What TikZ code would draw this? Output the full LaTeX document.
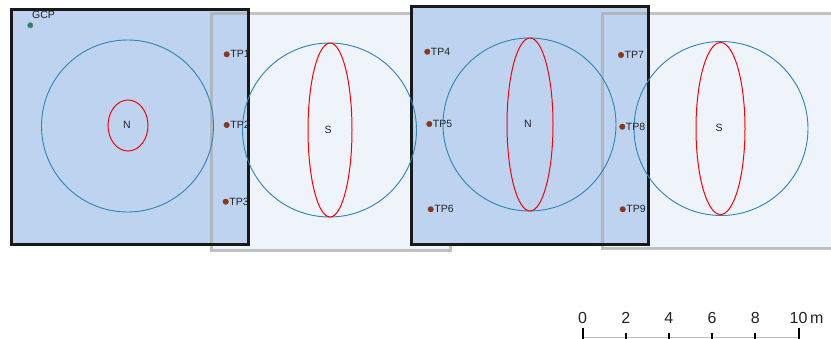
\documentclass[tikz,border=0pt]{standalone}
\usepackage{fontspec}
\setmainfont{Liberation Sans}
\definecolor{blueA}{HTML}{BED3F0}
\definecolor{lightA}{HTML}{EFF3FA}
\definecolor{grayA}{HTML}{AAAAAA}
\definecolor{circA}{HTML}{2A86B4}
\definecolor{tpA}{HTML}{A03000}
\definecolor{gcpA}{HTML}{109050}
\definecolor{txtA}{HTML}{222222}
\begin{document}
\begin{tikzpicture}[x=1pt,y=-1pt,
  bluesq/.style={fill=blueA},
  lightsq/.style={fill=lightA},
  blackedge/.style={draw=black!90, line width=3pt},
  grayedge/.style={draw=grayA, draw opacity=0.7, line width=3pt},
  circ/.style={draw=circA, line width=0.9pt},
  redell/.style={draw=red, line width=1pt},
  lbl/.style={font=\fontsize{10.5}{12}\selectfont, text=txtA, inner sep=0pt},
  tpdot/.style={circle, fill=tpA, draw=black!70, line width=0.4pt, minimum size=5.5pt, inner sep=0pt},
  gcpdot/.style={circle, fill=gcpA, draw=black!50, line width=0.4pt, minimum size=5.5pt, inner sep=0pt},
  tick/.style={line width=2pt, draw=black},
  scl/.style={font=\fontsize{16}{18}\selectfont, text=txtA, inner sep=0pt, anchor=base}
]
\useasboundingbox (0,0) rectangle (831,339);
\clip (0,0) rectangle (831,339);
% square 2 fill
\fill[lightsq] (211,14) rectangle (450,251);
% square 1 fill
\fill[bluesq] (11,10) rectangle (248,245);
% GCP label (under border)
\node[gcpdot] (gcp) at (30.3,25.3) {};
\node[lbl, anchor=base west] (gcpl) at (32,18.5) {GCP};
% square 2 border
\draw[grayedge] (211,14) rectangle (450,251);
% square 1 border
\draw[blackedge] (11,10) rectangle (248,245);
% square 4 fill
\fill[lightsq] (602,14) rectangle (845,249);
% square 3 fill
\fill[bluesq] (411,7) rectangle (648,245);
% square 4 border
\draw[grayedge] (602,14) rectangle (845,249);
% square 3 border
\draw[blackedge] (411,7) rectangle (648,245);

% footprints
\draw[circ] (127.5,126) circle[radius=86];
\draw[redell] (128,125.5) ellipse[x radius=20, y radius=25.5];
\node[lbl] (n1) at (127,125) {N};

\draw[circ] (329.5,130) circle[radius=87];
\draw[redell] (330,130) ellipse[x radius=22, y radius=87];
\node[lbl] (s1) at (328,129.5) {S};

\draw[circ] (529.5,124.5) circle[radius=86.5];
\draw[redell] (530,124.5) ellipse[x radius=23, y radius=86.5];
\node[lbl] (n2) at (528,124) {N};

\draw[circ] (721,128.5) circle[radius=87];
\draw[redell] (720.5,128.5) ellipse[x radius=24.5, y radius=86];
\node[lbl] (s2) at (719,127.5) {S};

% tie points
\foreach \n/\x/\y in {1/226.7/54.3, 2/226.7/125, 3/225.7/201.7,
                      4/427.3/51.7, 5/429.3/124, 6/430.7/209.3,
                      7/621/55, 8/622.3/126.7, 9/622.7/209.3}{
  \node[tpdot] (tp\n) at (\x,\y) {};
  \node[lbl, anchor=west] (tp\n l) at ([xshift=0.5pt]tp\n.east) {TP\n};
}

% scale bar
\coordinate (b0) at (582.5,338);
\coordinate (b10) at (798.5,338);
\draw[line width=1pt, draw=black!25] (b0) -- (b10);
\draw[tick] (582.5,328) -- (582.5,340);
\draw[tick] (798.5,328) -- (798.5,340);
\foreach \xx in {625.7,668.9,712.1,755.3}{
  \draw[tick] (\xx,333.5) -- (\xx,340);
}
\node[scl] (l0) at (582.5,324) {0};
\node[scl] (l2) at (625.7,324) {2};
\node[scl] (l4) at (668.9,324) {4};
\node[scl] (l6) at (712.1,324) {6};
\node[scl] (l8) at (755.3,324) {8};
\node[scl] (l10) at (798.5,324) {10};
\node[scl, anchor=base west] (lm) at (810,324) {m};
\end{tikzpicture}
\end{document}
